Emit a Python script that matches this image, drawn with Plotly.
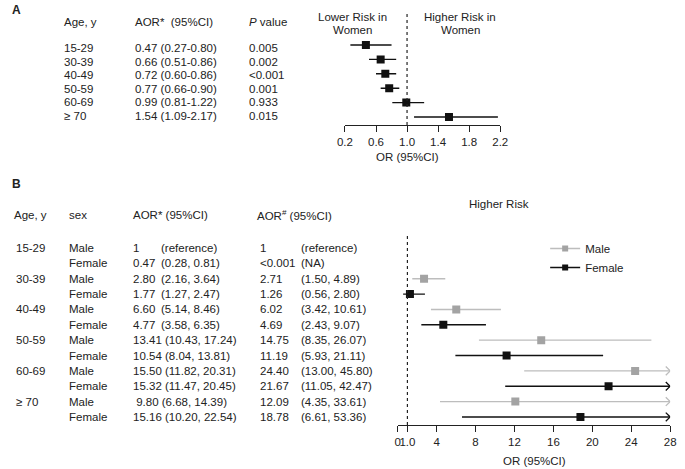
import plotly.graph_objects as go

W, H = 685, 469
FONT = "Liberation Sans"
TXT = "#222222"
FS = 11.5


def px(x):
    return x / W


def py(y):
    return 1 - y / H


# ---------------- Panel A data ----------------
a_age = ["15-29", "30-39", "40-49", "50-59", "60-69", "≥ 70"]
a_aor = [0.47, 0.66, 0.72, 0.77, 0.99, 1.54]
a_lo = [0.27, 0.51, 0.60, 0.66, 0.81, 1.09]
a_hi = [0.80, 0.86, 0.86, 0.90, 1.22, 2.17]
a_p = ["0.005", "0.002", "<0.001", "0.001", "0.933", "0.015"]
a_ticks = [0.2, 0.6, 1.0, 1.4, 1.8, 2.2]

# ---------------- Panel B data ----------------
b_age = ["15-29", "30-39", "40-49", "50-59", "60-69", "≥ 70"]
b_sex = ["Male", "Female"]
b_aor1 = ["1", "0.47", "2.80", "1.77", "6.60", "4.77",
          "13.41", "10.54", "15.50", "15.32", "9.80", "15.16"]
b_aor1_ci = ["(reference)", "(0.28, 0.81)", "(2.16, 3.64)", "(1.27, 2.47)",
             "(5.14, 8.46)", "(3.58, 6.35)", "(10.43, 17.24)", "(8.04, 13.81)",
             "(11.82, 20.31)", "(11.47, 20.45)", "(6.68, 14.39)", "(10.20, 22.54)"]
b_aor2 = ["1", "<0.001", "2.71", "1.26", "6.02", "4.69",
          "14.75", "11.19", "24.40", "21.67", "12.09", "18.78"]
b_aor2_ci = ["(reference)", "(NA)", "(1.50, 4.89)", "(0.56, 2.80)",
             "(3.42, 10.61)", "(2.43, 9.07)", "(8.35, 26.07)", "(5.93, 21.11)",
             "(13.00, 45.80)", "(11.05, 42.47)", "(4.35, 33.61)", "(6.61, 53.36)"]

# plotted values (AOR#), None = reference / not plotted
male_or = [None, 2.71, 6.02, 14.75, 24.40, 12.09]
male_lo = [None, 1.50, 3.42, 8.35, 13.00, 4.35]
male_hi = [None, 4.89, 10.61, 26.07, 45.80, 33.61]
female_or = [None, 1.26, 4.69, 11.19, 21.67, 18.78]
female_lo = [None, 0.56, 2.43, 5.93, 11.05, 6.61]
female_hi = [None, 2.80, 9.07, 21.11, 42.47, 53.36]
b_tickvals = [0, 1, 4, 8, 12, 16, 20, 24, 28]
b_ticktext = ["0", "1.0", "4", "8", "12", "16", "20", "24", "28"]
B_MAX = 28

MALE_MK = "#a3a3a3"
MALE_LN = "#bdbdbd"
FEM = "#111111"

fig = go.Figure()
ann = []


def txt(x, y, s, anchor="left", size=FS):
    ann.append(dict(x=px(x), y=py(y), xref="paper", yref="paper", text=s,
                    showarrow=False, xanchor=anchor, yanchor="middle",
                    font=dict(family=FONT, size=size, color=TXT)))


# ---------------- Panel A ----------------
rowsA = list(range(len(a_age)))
cx, cy = [], []
for i in rowsA:
    cx += [a_lo[i], a_hi[i], None]
    cy += [i, i, None]
fig.add_trace(go.Scatter(x=cx, y=cy, mode="lines", line=dict(color=FEM, width=1.4),
                         xaxis="x", yaxis="y", showlegend=False, hoverinfo="skip"))
fig.add_trace(go.Scatter(x=a_aor, y=rowsA, mode="markers",
                         marker=dict(symbol="square", size=8, color=FEM),
                         xaxis="x", yaxis="y", showlegend=False))

txt(2, 10, "<b>A</b>", size=12)
txt(55, 22, "Age, y")
txt(128, 22, "AOR*  (95%CI)")
txt(245, 22, "<i>P</i> value")
for i in rowsA:
    yy = 48 + 13.6 * i
    txt(55, yy, a_age[i])
    txt(128, yy, f"{a_aor[i]:.2f} ({a_lo[i]:.2f}-{a_hi[i]:.2f})")
    txt(245, yy, a_p[i])
txt(353, 17, "Lower Risk in", anchor="center")
txt(353, 30, "Women", anchor="center")
txt(463, 17, "Higher Risk in", anchor="center")
txt(463, 30, "Women", anchor="center")
txt(409, 157, "OR (95%CI)", anchor="center")


# ---------------- Panel B ----------------
def series(orv, lo, hi, offset, mk, ln, name):
    xs, ys, ax_, ay_ = [], [], [], []
    px_, py_ = [], []
    for g in range(len(orv)):
        if orv[g] is None:
            continue
        r = 2 * g + offset
        xs += [lo[g], min(hi[g], B_MAX), None]
        ys += [r, r, None]
        px_.append(orv[g])
        py_.append(r)
        if hi[g] > B_MAX:
            d = B_MAX * 4.5 / 279
            ax_ += [B_MAX - d, B_MAX, B_MAX - d, None]
            ay_ += [r - 0.28, r, r + 0.28, None]
    fig.add_trace(go.Scatter(x=xs, y=ys, mode="lines", line=dict(color=ln, width=1.4),
                             xaxis="x2", yaxis="y2", showlegend=False, hoverinfo="skip"))
    fig.add_trace(go.Scatter(x=ax_, y=ay_, mode="lines", line=dict(color=ln, width=1.3),
                             xaxis="x2", yaxis="y2", showlegend=False, hoverinfo="skip",
                             cliponaxis=False))
    fig.add_trace(go.Scatter(x=px_, y=py_, mode="markers",
                             marker=dict(symbol="square", size=8, color=mk),
                             xaxis="x2", yaxis="y2", showlegend=False, name=name))
    fig.add_trace(go.Scatter(x=[None], y=[None], mode="lines+markers", name=name,
                             line=dict(color=ln if name == "Male" else mk, width=1.6),
                             marker=dict(symbol="square", size=6, color=mk),
                             xaxis="x2", yaxis="y2", showlegend=True))


series(male_or, male_lo, male_hi, 0, MALE_MK, MALE_LN, "Male")
series(female_or, female_lo, female_hi, 1, FEM, FEM, "Female")

txt(2, 184, "<b>B</b>", size=12)
txt(4, 215, "Age, y")
txt(60, 215, "sex")
txt(126, 215, "AOR* (95%CI)")
txt(253, 215, "AOR<sup>#</sup> (95%CI)")
for r in range(12):
    yy = 248 + 15.36 * r
    if r % 2 == 0:
        txt(6, yy, b_age[r // 2])
    txt(60, yy, b_sex[r % 2])
    if r < 6:
        txt(126, yy, b_aor1[r])
        txt(155, yy, b_aor1_ci[r])
    else:
        lead = "&nbsp;" if len(b_aor1[r]) < 5 else ""
        txt(126, yy, lead + b_aor1[r] + " " + b_aor1_ci[r])
    txt(256, yy, b_aor2[r])
    txt(298, yy, b_aor2_ci[r])
txt(503, 204, "Higher Risk", anchor="center")
txt(539, 461, "OR (95%CI)", anchor="center")

tickfont = dict(family=FONT, size=FS, color=TXT)
axis_common = dict(showline=True, linecolor="#222", linewidth=1.3, ticks="outside",
                   ticklen=6, tickwidth=1.3, tickcolor="#222", showgrid=False,
                   zeroline=False, tickfont=tickfont, fixedrange=True, tickangle=0)

fig.update_layout(
    width=W, height=H, autosize=False,
    margin=dict(l=0, r=0, t=0, b=0),
    paper_bgcolor="white", plot_bgcolor="white",
    font=dict(family=FONT, size=FS, color=TXT),
    xaxis=dict(domain=[px(345), px(504)], range=[0.2, 2.2], tickvals=a_ticks,
               ticktext=[f"{v:.1f}" for v in a_ticks], anchor="y", **axis_common),
    yaxis=dict(domain=[py(125), py(13)], range=[(125 - 45) / 14.4, (13 - 45) / 14.4],
               visible=False, anchor="x", fixedrange=True),
    xaxis2=dict(domain=[px(399), px(678)], range=[0, B_MAX], tickvals=b_tickvals,
                ticktext=b_ticktext, anchor="y2", **axis_common),
    yaxis2=dict(domain=[py(425), py(233)], range=[(425 - 248) / 15.36, (233 - 248) / 15.36],
                visible=False, anchor="x2", fixedrange=True),
    shapes=[
        dict(type="line", xref="x", yref="y domain", x0=1, x1=1, y0=0, y1=1,
             line=dict(color="#222", width=1.2, dash="dot")),
        dict(type="line", xref="x2", yref="y2 domain", x0=1, x1=1, y0=0, y1=1,
             line=dict(color="#222", width=1.2, dash="dot")),
    ],
    legend=dict(x=px(550), y=py(234), xanchor="left", yanchor="top",
                font=dict(family=FONT, size=FS, color=TXT), bgcolor="rgba(0,0,0,0)",
                itemwidth=30, tracegroupgap=0),
    annotations=ann,
)

fig.write_html("out.html", config={"displayModeBar": False},
               post_script="document.body.style.margin='0px';document.body.style.overflow='hidden';")
